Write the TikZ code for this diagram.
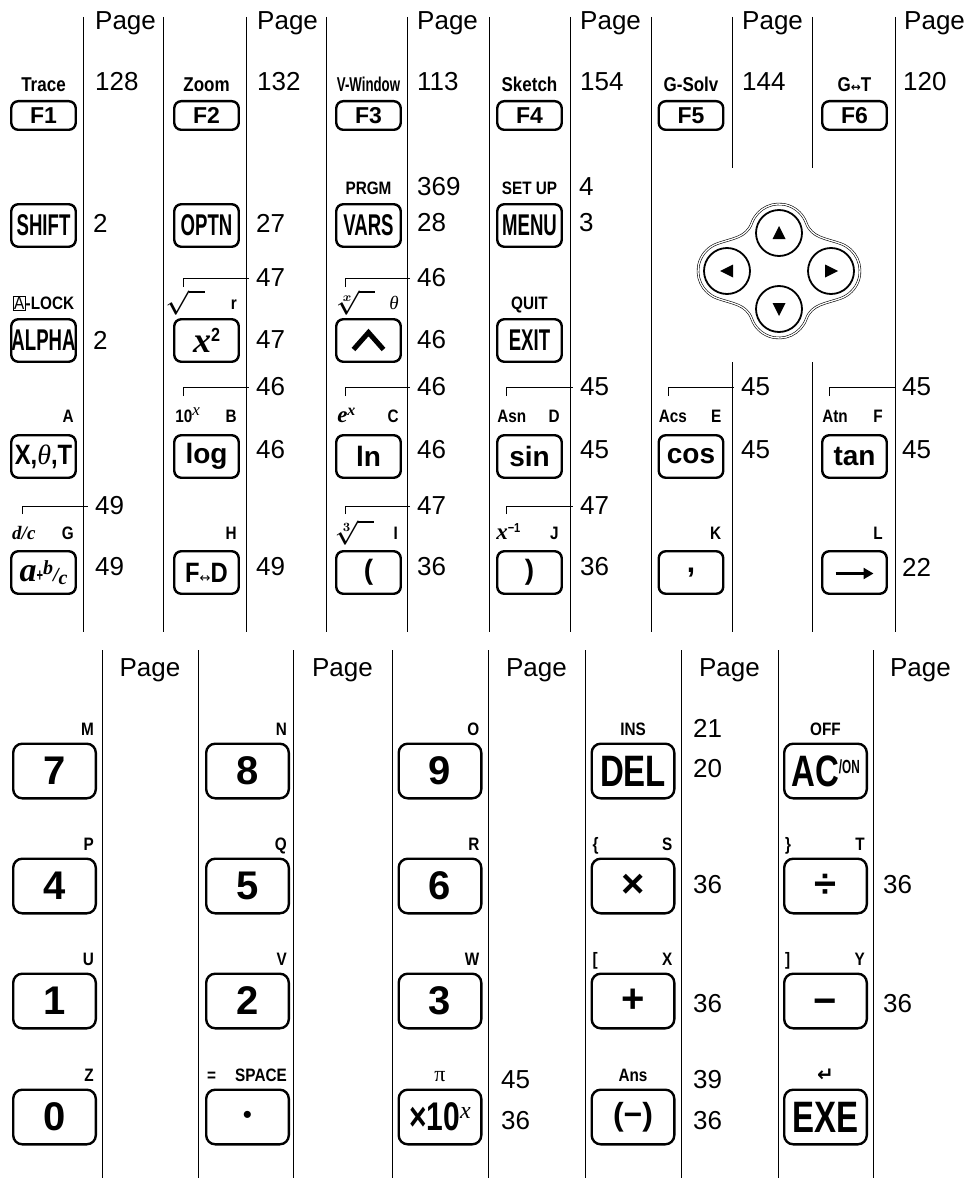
\documentclass[tikz,border=0pt]{standalone}
\usepackage{fontspec}
\usepackage{graphicx}
\setmainfont{Liberation Sans}
\newfontfamily\condfont{Liberation Sans}[FakeStretch=0.85]
\newfontfamily\midfont{Liberation Sans}[FakeStretch=0.75]
\newfontfamily\narrowfont{Liberation Sans}[FakeStretch=0.62]
\newfontfamily\serfont{Liberation Serif}
\newfontfamily\symfont{DejaVu Sans}
\usetikzlibrary{positioning,calc,arrows.meta}
\newcommand{\fsz}[1]{\fontsize{#1}{#1}\selectfont}
\newcommand{\rootlbl}[1]{\scalebox{1.4}{\boldmath$\sqrt[#1]{\phantom{x}}$}}

\begin{document}
\begin{tikzpicture}[
  x=1pt,y=1pt,
  key/.style={draw,line width=2.4pt,rounded corners=7pt,minimum width=64.5pt,minimum height=42.5pt,inner sep=0pt,font=\narrowfont\bfseries\fsz{30}},
  fkey/.style={key,minimum height=28.6pt,font=\bfseries\fsz{23}},
  bigkey/.style={key,rounded corners=9pt,minimum width=82.6pt,minimum height=54.6pt,font=\bfseries\fsz{40}},
  lbl/.style={inner sep=0pt,text depth=0pt,font=\condfont\bfseries\fsz{18}},
  flbl/.style={lbl,font=\condfont\bfseries\fsz{20}},
  num/.style={anchor=west,inner sep=0pt,font=\fsz{26}},
  pg/.style={inner sep=0pt,font=\fsz{26}},
  vline/.style={line width=0.9pt},
  brk/.style={line width=0.8pt,shorten >=7pt},
  arkey/.style={draw,circle,line width=1.8pt,minimum size=46pt,inner sep=0pt},
  pad/.style={draw,double,double distance=1.3pt,line width=0.6pt}
]
\useasboundingbox (0,0) rectangle (968,-1180);

% upper block: columns
\draw[vline] (83,-17)--(83,-632) (163,-17)--(163,-632) (246,-17)--(246,-632)
  (326,-17)--(326,-632) (407,-17)--(407,-632) (489,-17)--(489,-632)
  (570,-17)--(570,-632) (651,-17)--(651,-632) (895,-17)--(895,-632);
\draw[vline] (732,-17)--(732,-168) (732,-362)--(732,-632)
  (812,-17)--(812,-168) (812,-362)--(812,-632);
\node[pg,anchor=base west] at (95,-30) {Page};
\node[pg,anchor=base west] at (257,-30) {Page};
\node[pg,anchor=base west] at (417,-30) {Page};
\node[pg,anchor=base west] at (580,-30) {Page};
\node[pg,anchor=base west] at (742,-30) {Page};
\node[pg,anchor=base west] at (904,-30) {Page};

% function keys
\node[fkey] (f1) at (43.5,-115.5) {F1};
\node[fkey] (f2) at (206.5,-115.5) {F2};
\node[fkey] (f3) at (368.5,-115.5) {F3};
\node[fkey] (f4) at (529.5,-115.5) {F4};
\node[fkey] (f5) at (691,-115.5) {F5};
\node[fkey] (f6) at (854.5,-115.5) {F6};
\node[flbl,above=8pt of f1] {Trace};
\node[flbl,above=8pt of f2] {Zoom};
\node[flbl,above=8pt of f3] {\scalebox{0.78}[1]{V-Window}};
\node[flbl,above=8pt of f4] {Sketch};
\node[flbl,above=8pt of f5] {G-Solv};
\node[flbl,above=8pt of f6] {G{\symfont\bfseries\fsz{12}↔}T};
\node[num] at (95,-82) {128};
\node[num] at (257,-82) {132};
\node[num] at (417,-82) {113};
\node[num] at (580,-82) {154};
\node[num] at (742,-82) {144};
\node[num] at (903,-82) {120};

% row 2
\node[key] (kshift) at (43.5,-225.5) {SHIFT};
\node[key] (koptn) at (206.5,-225.5) {OPTN};
\node[key] (kvars) at (368.5,-225.5) {VARS};
\node[key] (kmenu) at (529.5,-225.5) {MENU};
\node[lbl,above=8pt of kvars] {PRGM};
\node[lbl,above=8pt of kmenu] {SET UP};
\node[num] at (93,-223) {2};
\node[num] at (256,-223) {27};
\node[num] at (417,-187) {369};
\node[num] at (417,-223) {28};
\node[num] at (579,-187) {4};
\node[num] at (579,-223) {3};

% cursor pad
\node[arkey] (kup) at (779,-233) {};
\node[arkey] (kdown) at (779,-309) {};
\node[arkey] (kleft) at (727,-271) {};
\node[arkey] (kright) at (831,-271) {};
\draw[pad] ($(kup)+(160:29)$) arc[start angle=160,end angle=20,radius=29]
  to[out=-70,in=160] ($(kright)+(70:29)$) arc[start angle=70,end angle=-70,radius=29]
  to[out=-160,in=70] ($(kdown)+(-20:29)$) arc[start angle=-20,end angle=-160,radius=29]
  to[out=110,in=-20] ($(kleft)+(-110:29)$) arc[start angle=-110,end angle=-250,radius=29]
  to[out=20,in=-110] ($(kup)+(160:29)$) -- cycle;
\fill ($(kup)+(0,7)$) -- ++(-6.5,-13) -- ++(13,0) -- cycle;
\fill ($(kdown)+(0,-7)$) -- ++(-6.5,13) -- ++(13,0) -- cycle;
\fill ($(kleft)+(-7,0)$) -- ++(13,6.5) -- ++(0,-13) -- cycle;
\fill ($(kright)+(7,0)$) -- ++(-13,6.5) -- ++(0,-13) -- cycle;

% row 3
\node[key] (kalpha) at (43.5,-340.5) {ALPHA};
\node[key] (ksq) at (206.5,-340.5) {{\serfont\bfseries\itshape\fsz{36}x}\raisebox{11pt}{\condfont\bfseries\fsz{19}2}};
\node[key] (kpow) at (368.5,-340.5) {};
\node[key] (kexit) at (529.5,-340.5) {EXIT};
\draw[line width=5pt] ($(kpow)+(-15,-9)$) -- ($(kpow)+(0,8)$) -- ($(kpow)+(15,-9)$);
\node[lbl,above=8pt of kalpha] {{\fboxsep=0.6pt\fboxrule=0.7pt\fbox{\mdseries A}}-LOCK};
\node[lbl,above right=8pt and 0pt of ksq.north west] {\rootlbl{}};
\node[lbl,above left=8pt and 3pt of ksq.north east] {r};
\node[lbl,above right=8pt and 0pt of kpow.north west] {\rootlbl{x}};
\node[lbl,above left=8pt and 3pt of kpow.north east] {{\serfont\mdseries\itshape\fsz{19}θ}};
\node[lbl,above=8pt of kexit] {QUIT};
\node[num] at (93,-340) {2};
\node[num] (n47a) at (256,-278) {47};
\node[num] at (256,-340) {47};
\node[num] (n46a) at (417,-278) {46};
\node[num] at (417,-340) {46};
\coordinate (tsq) at (183,-287);
\coordinate (tpow) at (345,-287);
\draw[brk] (tsq) |- (n47a);
\draw[brk] (tpow) |- (n46a);

% row 4
\node[key,font=\condfont\bfseries\fsz{28}] (kxt) at (43.5,-456.5) {X,{\serfont\mdseries\itshape θ},T};
\node[key,font=\bfseries\fsz{28}] (klog) at (206.5,-456.5) {log};
\node[key,font=\bfseries\fsz{28}] (kln) at (368.5,-456.5) {ln};
\node[key,font=\bfseries\fsz{28}] (ksin) at (529.5,-456.5) {sin};
\node[key,font=\bfseries\fsz{28}] (kcos) at (691,-456.5) {cos};
\node[key,font=\bfseries\fsz{28}] (ktan) at (854.5,-456.5) {tan};
\node[lbl,above left=11pt and 3pt of kxt.north east] {A};
\node[lbl,above right=11pt and 2pt of klog.north west] {10\raisebox{7pt}{\serfont\mdseries\itshape\fsz{17}x}};
\node[lbl,above left=11pt and 3pt of klog.north east] {B};
\node[lbl,above right=11pt and 2pt of kln.north west] {{\serfont\itshape\fsz{23}e}\raisebox{7pt}{\serfont\itshape\fsz{16}x}};
\node[lbl,above left=11pt and 3pt of kln.north east] {C};
\node[lbl,above right=11pt and 1pt of ksin.north west] {Asn};
\node[lbl,above left=11pt and 3pt of ksin.north east] {D};
\node[lbl,above right=11pt and 1pt of kcos.north west] {Acs};
\node[lbl,above left=11pt and 3pt of kcos.north east] {E};
\node[lbl,above right=11pt and 1pt of ktan.north west] {Atn};
\node[lbl,above left=11pt and 5pt of ktan.north east] {F};
\node[num] (n46b) at (256,-387) {46};
\node[num] at (256,-450) {46};
\node[num] (n46c) at (417,-387) {46};
\node[num] at (417,-450) {46};
\node[num] (n45a) at (580,-387) {45};
\node[num] at (580,-450) {45};
\node[num] (n45b) at (741,-387) {45};
\node[num] at (741,-450) {45};
\node[num] (n45c) at (902,-387) {45};
\node[num] at (902,-450) {45};
\coordinate (tlog) at (183,-396);
\coordinate (tln) at (345,-396);
\coordinate (tsin) at (506,-396);
\coordinate (tcos) at (668,-396);
\coordinate (ttan) at (829,-396);
\draw[brk] (tlog) |- (n46b);
\draw[brk] (tln) |- (n46c);
\draw[brk] (tsin) |- (n45a);
\draw[brk] (tcos) |- (n45b);
\draw[brk] (ttan) |- (n45c);

% row 5
\node[key] (kfrac) at (43.5,-572.5) {{\serfont\bfseries\itshape\fsz{34}a}{\bfseries\fsz{18}+}{\serfont\bfseries\itshape\fsz{20}\raisebox{7pt}{b}/\raisebox{-3pt}{c}}};
\node[key,font=\condfont\bfseries\fsz{28}] (kfd) at (206.5,-572.5) {F{\symfont\mdseries\fsz{13}↔}D};
\node[key,font=\bfseries\fsz{28}] (klp) at (368.5,-572.5) {(};
\node[key,font=\bfseries\fsz{28}] (krp) at (529.5,-572.5) {)};
\node[key,font=\bfseries\fsz{30}] (kcomma) at (691,-572.5) {\raisebox{-4pt}{,}};
\node[key] (kstore) at (854.5,-572.5) {};
\draw[line width=2.4pt,-{Triangle[length=10pt,width=11pt]}] ($(kstore)+(-19,-1)$) -- ($(kstore)+(19,-1)$);
\node[lbl,above right=10pt and 2pt of kfrac.north west] {{\serfont\itshape\fsz{19}d/c}};
\node[lbl,above left=10pt and 3pt of kfrac.north east] {G};
\node[lbl,above left=10pt and 3pt of kfd.north east] {H};
\node[lbl,above right=10pt and 0pt of klp.north west] {\rootlbl{3}};
\node[lbl,above left=10pt and 4pt of klp.north east] {I};
\node[lbl,above right=10pt and 0pt of krp.north west] {{\serfont\itshape\fsz{23}x}\raisebox{7pt}{\fsz{13}−1}};
\node[lbl,above left=10pt and 4pt of krp.north east] {J};
\node[lbl,above left=10pt and 3pt of kcomma.north east] {K};
\node[lbl,above left=10pt and 5pt of kstore.north east] {L};
\node[num] (n49a) at (95,-506) {49};
\node[num] at (95,-567) {49};
\node[num] at (256,-567) {49};
\node[num] (n47b) at (417,-506) {47};
\node[num] at (417,-567) {36};
\node[num] (n47c) at (580,-506) {47};
\node[num] at (580,-567) {36};
\node[num] at (902,-567) {22};
\coordinate (tfrac) at (22,-514);
\coordinate (tlp) at (345,-514);
\coordinate (trp) at (506,-514);
\draw[brk] (tfrac) |- (n49a);
\draw[brk] (tlp) |- (n47b);
\draw[brk] (trp) |- (n47c);

% lower block: columns
\draw[vline] (102,-650)--(102,-1178) (198,-650)--(198,-1178) (293,-650)--(293,-1178)
  (392,-650)--(392,-1178) (488,-650)--(488,-1178) (585,-650)--(585,-1178)
  (681,-650)--(681,-1178) (778,-650)--(778,-1178) (873,-650)--(873,-1178);
\node[pg,anchor=base] at (150,-676) {Page};
\node[pg,anchor=base] at (342.5,-676) {Page};
\node[pg,anchor=base] at (536.5,-676) {Page};
\node[pg,anchor=base] at (729.5,-676) {Page};
\node[pg,anchor=base] at (920.5,-676) {Page};

% digit block
\node[bigkey] (k7) at (54.5,-771) {7};
\node[bigkey] (k8) at (247.5,-771) {8};
\node[bigkey] (k9) at (440,-771) {9};
\node[bigkey,font=\midfont\bfseries\fsz{44}] (kdel) at (633,-771) {DEL};
\node[bigkey,font=\midfont\bfseries\fsz{44}] (kac) at (825.5,-771) {AC\raisebox{13pt}{\narrowfont\fsz{19}/ON}};
\node[bigkey] (k4) at (54.5,-886) {4};
\node[bigkey] (k5) at (247.5,-886) {5};
\node[bigkey] (k6) at (440,-886) {6};
\node[bigkey] (kmul) at (633,-886) {×};
\node[bigkey] (kdiv) at (825.5,-886) {÷};
\node[bigkey] (k1) at (54.5,-1001) {1};
\node[bigkey] (k2) at (247.5,-1001) {2};
\node[bigkey] (k3) at (440,-1001) {3};
\node[bigkey] (kadd) at (633,-1001) {+};
\node[bigkey] (ksub) at (825.5,-1001) {\raisebox{-13pt}[0pt][0pt]{−}};
\node[bigkey] (k0) at (54.5,-1117) {0};
\node[bigkey,font=\fsz{26}] (kdot) at (247.5,-1117) {•};
\node[bigkey,font=\midfont\bfseries\fsz{40}] (kexp) at (440,-1117) {×10\raisebox{12pt}{\serfont\mdseries\itshape\fsz{24}x}};
\node[bigkey,font=\bfseries\fsz{32}] (kneg) at (633,-1117) {(−)};
\node[bigkey,font=\midfont\bfseries\fsz{44}] (kexe) at (825.5,-1117) {EXE};
\node[lbl,above left=7pt and 3pt of k7.north east] {M};
\node[lbl,above left=7pt and 3pt of k8.north east] {N};
\node[lbl,above left=7pt and 3pt of k9.north east] {O};
\node[lbl,above=7pt of kdel] {INS};
\node[lbl,above=7pt of kac] {OFF};
\node[lbl,above left=7pt and 3pt of k4.north east] {P};
\node[lbl,above left=7pt and 3pt of k5.north east] {Q};
\node[lbl,above left=7pt and 3pt of k6.north east] {R};
\node[lbl,above right=7pt and 2pt of kmul.north west] {\{};
\node[lbl,above left=7pt and 3pt of kmul.north east] {S};
\node[lbl,above right=7pt and 2pt of kdiv.north west] {\}};
\node[lbl,above left=7pt and 3pt of kdiv.north east] {T};
\node[lbl,above left=7pt and 3pt of k1.north east] {U};
\node[lbl,above left=7pt and 3pt of k2.north east] {V};
\node[lbl,above left=7pt and 3pt of k3.north east] {W};
\node[lbl,above right=7pt and 2pt of kadd.north west] {[};
\node[lbl,above left=7pt and 3pt of kadd.north east] {X};
\node[lbl,above right=7pt and 2pt of ksub.north west] {]};
\node[lbl,above left=7pt and 3pt of ksub.north east] {Y};
\node[lbl,above left=7pt and 3pt of k0.north east] {Z};
\node[lbl,above right=7pt and 2pt of kdot.north west] {=};
\node[lbl,above left=7pt and 3pt of kdot.north east] {SPACE};
\node[lbl,above=7pt of kexp] {{\serfont\mdseries\fsz{22}π}};
\node[lbl,above=7pt of kneg] {Ans};
\node[lbl,above=7pt of kexe] {{\symfont\bfseries\fsz{20}↵}};
\node[num] at (693,-728) {21};
\node[num] at (693,-769) {20};
\node[num] at (693,-885) {36};
\node[num] at (883,-885) {36};
\node[num] at (693,-1004) {36};
\node[num] at (883,-1004) {36};
\node[num] at (501,-1080) {45};
\node[num] at (501,-1121) {36};
\node[num] at (693,-1080) {39};
\node[num] at (693,-1121) {36};
\end{tikzpicture}
\end{document}
